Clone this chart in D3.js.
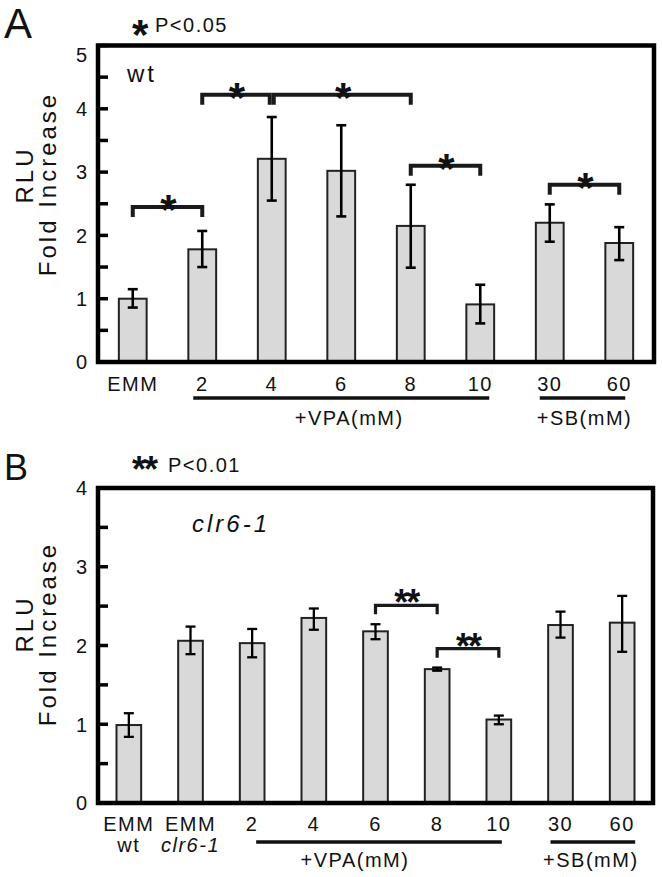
<!DOCTYPE html>
<html>
<head>
<meta charset="utf-8">
<script src="https://cdn.jsdelivr.net/npm/d3@7"></script>
<style>
  body { margin: 0; background: #fff; }
  text { font-family: "Liberation Sans", Arial, sans-serif; fill: #111; }
</style>
</head>
<body>
<script>
// ---- panel A (wt) ----
const catsA = ['EMM', '2', '4', '6', '8', '10', '30', '60'];
const meanA = [1.00, 1.78, 3.21, 3.02, 2.15, 0.91, 2.20, 1.88];
const lowA = [0.86, 1.50, 2.55, 2.30, 1.49, 0.61, 1.90, 1.61];
const highA = [1.15, 2.07, 3.87, 3.74, 2.80, 1.22, 2.49, 2.13];
const sigFromA = ['EMM', '2', '4', '8', '30'];
const sigToA = ['2', '4', '8', '10', '60'];
const sigLevelA = [2.45, 4.22, 4.22, 3.10, 2.80];
const yTicksA = [0, 1, 2, 3, 4, 5];

// ---- panel B (clr6-1) ----
const catsB = ['EMM wt', 'EMM clr6-1', '2', '4', '6', '8', '10', '30', '60'];
const labelTopB = ['EMM', 'EMM', '2', '4', '6', '8', '10', '30', '60'];
const labelSubB = ['wt', 'clr6-1', '', '', '', '', '', '', ''];
const meanB = [0.99, 2.06, 2.03, 2.35, 2.18, 1.70, 1.06, 2.26, 2.29];
const lowB = [0.84, 1.89, 1.85, 2.20, 2.08, 1.68, 1.00, 2.10, 1.92];
const highB = [1.14, 2.24, 2.21, 2.47, 2.27, 1.72, 1.11, 2.43, 2.63];
const sigFromB = ['6', '8'];
const sigToB = ['8', '10'];
const sigLevelB = [2.51, 1.96];
const yTicksB = [0, 1, 2, 3, 4];

const groupLabels = ['+VPA(mM)', '+SB(mM)'];
const groupFromA = ['2', '30'], groupToA = ['10', '60'];
const groupFromB = ['2', '30'], groupToB = ['10', '60'];

const W = 662, H = 877;
const svg = d3.select('body').append('svg').attr('width', W).attr('height', H);

function drawPanel(cfg) {
  const g = svg.append('g');
  const x = d3.scaleBand().domain(cfg.cats).range([cfg.left, cfg.right])
    .paddingInner(0.6).paddingOuter(0.3);
  const y = d3.scaleLinear().domain([0, cfg.yMax]).range([cfg.bottom, cfg.top]);
  const cx = c => x(c) + x.bandwidth() / 2;

  // bars
  g.selectAll('rect.bar').data(cfg.cats).enter().append('rect')
    .attr('class', 'bar')
    .attr('x', c => x(c))
    .attr('width', x.bandwidth())
    .attr('y', (c, i) => y(cfg.mean[i]))
    .attr('height', (c, i) => y(0) - y(cfg.mean[i]))
    .attr('fill', '#d9d9d9').attr('stroke', '#222').attr('stroke-width', 2);

  // error bars
  const eb = g.selectAll('g.err').data(cfg.cats).enter().append('g')
    .attr('stroke', '#000').attr('stroke-width', cfg.errW);
  eb.append('line').attr('x1', cx).attr('x2', cx)
    .attr('y1', (c, i) => y(cfg.low[i])).attr('y2', (c, i) => y(cfg.high[i]));
  eb.append('line').attr('x1', c => cx(c) - 5).attr('x2', c => cx(c) + 5)
    .attr('y1', (c, i) => y(cfg.high[i])).attr('y2', (c, i) => y(cfg.high[i]));
  eb.append('line').attr('x1', c => cx(c) - 5).attr('x2', c => cx(c) + 5)
    .attr('y1', (c, i) => y(cfg.low[i])).attr('y2', (c, i) => y(cfg.low[i]));

  // y tick labels
  g.append('g').attr('transform', `translate(${cfg.left},0)`)
    .call(d3.axisLeft(y).tickValues(cfg.yTicks).tickSize(0).tickPadding(11)
      .tickFormat(d3.format('d')))
    .call(a => a.select('.domain').remove())
    .call(a => a.selectAll('text').attr('font-size', 20).attr('font-family', null)
      .attr('dy', d => (d === cfg.yMax ? cfg.topLabelDy : 0.34) + 'em'));

  // x labels
  const xa = g.append('g').attr('transform', `translate(0,${cfg.bottom})`)
    .call(d3.axisBottom(x).tickSize(0).tickPadding(cfg.xPad)
      .tickFormat((d, i) => cfg.labelTop[i]))
    .call(a => a.select('.domain').remove());
  xa.selectAll('text').attr('font-size', 20).attr('font-family', null)
    .attr('letter-spacing', '1.5px');
  if (cfg.labelSub) {
    xa.selectAll('.tick').append('text')
      .attr('y', cfg.subY).attr('font-size', 20).attr('letter-spacing', '1.5px')
      .attr('text-anchor', 'middle')
      .attr('font-style', (d, i) => cfg.labelSub[i] === 'wt' ? 'normal' : 'italic')
      .text((d, i) => cfg.labelSub[i]);
  }

  // treatment group lines
  cfg.groupFrom.forEach((f, i) => {
    const x1 = cx(f) + cfg.groupPad[i][0], x2 = cx(cfg.groupTo[i]) + cfg.groupPad[i][1];
    g.append('line').attr('x1', x1).attr('x2', x2)
      .attr('y1', cfg.groupLineY).attr('y2', cfg.groupLineY)
      .attr('stroke', '#111').attr('stroke-width', 3.5);
    g.append('text').attr('x', (x1 + x2) / 2 + cfg.groupPad[i][2]).attr('y', cfg.groupTextY)
      .attr('text-anchor', 'middle').attr('font-size', 20).attr('letter-spacing', '1.5px')
      .text(groupLabels[i]);
  });

  // significance brackets
  cfg.sigFrom.forEach((f, i) => {
    const t = cfg.sigTo[i], lv = cfg.sigLevel[i];
    const sharedL = cfg.sigTo.some((tt, j) => j !== i && tt === f && cfg.sigLevel[j] === lv);
    const sharedR = cfg.sigFrom.some((ff, j) => j !== i && ff === t && cfg.sigLevel[j] === lv);
    const x1 = cx(f) + (sharedL ? 2 : 0), x2 = cx(t) - (sharedR ? 2 : 0);
    const yy = y(lv);
    g.append('path')
      .attr('d', `M${x1},${yy + cfg.legLen}V${yy}H${x2}V${yy + cfg.legLen}`)
      .attr('fill', 'none').attr('stroke', '#1a1a1a').attr('stroke-width', cfg.bracketW);
    g.append('text').attr('x', (x1 + x2) / 2).attr('y', yy + cfg.starDy)
      .attr('text-anchor', 'middle').attr('font-size', cfg.starSize).attr('font-weight', 'bold')
      .attr('letter-spacing', '-2px')
      .text(cfg.mark);
  });

  // y title
  g.append('text').attr('transform', `translate(33,${cfg.rluY}) rotate(-90)`)
    .attr('text-anchor', 'middle').attr('font-size', 24).attr('letter-spacing', '3px')
    .text('RLU');
  g.append('text').attr('transform', `translate(56,${cfg.foldY}) rotate(-90)`)
    .attr('text-anchor', 'middle').attr('font-size', 24).attr('letter-spacing', '3px')
    .text('Fold Increase');

  // panel letter, legend, strain label
  g.append('text').attr('x', 4).attr('y', cfg.letterY).attr('font-size', cfg.letterSize).text(cfg.letter);
  g.append('text').attr('x', 132).attr('y', cfg.legendY + cfg.legendStarDy)
    .attr('font-size', cfg.starSize).attr('font-weight', 'bold').attr('letter-spacing', '-2px')
    .text(cfg.mark);
  g.append('text').attr('x', cfg.legendTextX).attr('y', cfg.legendY)
    .attr('font-size', 20).attr('letter-spacing', '1.5px').text(cfg.legendText);
  g.append('text').attr('x', cfg.strainX).attr('y', cfg.strainY).attr('font-size', 24)
    .attr('letter-spacing', '3px').attr('font-style', cfg.strainItalic ? 'italic' : 'normal')
    .text(cfg.strain);

  // frame and inward ticks, drawn last so nothing covers them
  const frame = svg.append('g');
  frame.append('path')
    .attr('d', `M${cfg.left},${cfg.top}H${cfg.right}V${cfg.bottom}H${cfg.left}Z`)
    .attr('fill', 'none').attr('stroke', '#000').attr('stroke-width', 4.5);
  frame.selectAll('line').data(d3.range(0, cfg.yMax + 0.01, 0.5)).enter().append('line')
    .attr('x1', cfg.left).attr('x2', cfg.left + 10)
    .attr('y1', d => y(d)).attr('y2', d => y(d))
    .attr('stroke', '#000').attr('stroke-width', 3.5);
}

drawPanel({
  cats: catsA, mean: meanA, low: lowA, high: highA, yTicks: yTicksA, yMax: 5,
  left: 98, right: 654, top: 45.5, bottom: 362, topLabelDy: 0.8,
  labelTop: catsA, xPad: 15, errW: 2.6,
  groupFrom: groupFromA, groupTo: groupToA, groupPad: [[-9, 9, 8], [-10, 6, 2]],
  groupLineY: 398, groupTextY: 425,
  sigFrom: sigFromA, sigTo: sigToA, sigLevel: sigLevelA, mark: '*',
  legLen: 10, bracketW: 4, starSize: 42, starDy: 17,
  rluY: 175, foldY: 184,
  letter: 'A', letterY: 38, letterSize: 42,
  legendY: 32, legendStarDy: 17, legendTextX: 155, legendText: 'P<0.05',
  strain: 'wt', strainX: 127, strainY: 82, strainItalic: false
});

drawPanel({
  cats: catsB, mean: meanB, low: lowB, high: highB, yTicks: yTicksB, yMax: 4,
  left: 98, right: 653, top: 488, bottom: 803, topLabelDy: 0.34,
  labelTop: labelTopB, labelSub: labelSubB, xPad: 14, subY: 49, errW: 2.3,
  groupFrom: groupFromB, groupTo: groupToB, groupPad: [[4, 3, -24], [-10, 13, -2]],
  groupLineY: 842, groupTextY: 867,
  sigFrom: sigFromB, sigTo: sigToB, sigLevel: sigLevelB, mark: '**',
  legLen: 9, bracketW: 3.2, starSize: 36, starDy: 10,
  rluY: 624, foldY: 634,
  letter: 'B', letterY: 480, letterSize: 36,
  legendY: 472, legendStarDy: 10, legendTextX: 168, legendText: 'P<0.01',
  strain: 'clr6-1', strainX: 192, strainY: 532, strainItalic: true
});
</script>
</body>
</html>
